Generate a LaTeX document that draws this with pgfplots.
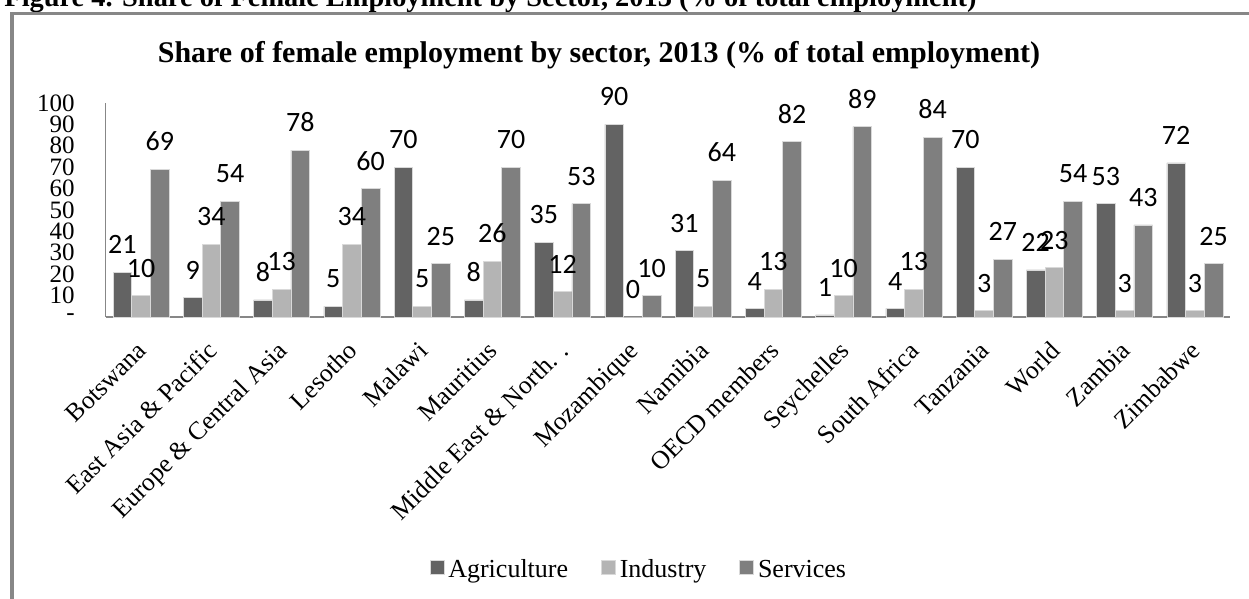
\documentclass[border=0pt]{standalone}
\usepackage{pgfplots}
\pgfplotsset{compat=1.18}
\usepackage{pgfplotstable}
\usepackage{fontspec}
\setmainfont{Liberation Serif}
\newfontfamily\carlito{Carlito}
\definecolor{agri}{HTML}{636363}
\definecolor{indu}{HTML}{B4B4B4}
\definecolor{serv}{HTML}{7F7F7F}
\definecolor{framec}{HTML}{878787}
\pgfplotstableread{
x agri indu serv
0 21 10 69
1 9 34 54
2 8 13 78
3 5 34 60
4 70 5 25
5 8 26 70
6 35 12 53
7 90 0 10
8 31 5 64
9 4 13 82
10 1 10 89
11 4 13 84
12 70 3 27
13 22 23 54
14 53 3 43
15 72 3 25
}\datatable
\begin{document}
\begin{tikzpicture}
\path[use as bounding box] (0,0) rectangle (624.5pt,-299.5pt);
\clip (0,0) rectangle (624.5pt,-299.5pt);
\node[anchor=base west, inner sep=0pt, font=\fontsize{14.2}{16}\selectfont\bfseries] at (2pt,-3.5pt) {Figure 4. Share of Female Employment by Sector, 2013 (\% of total employment)};
\draw[framec, line width=1.75pt] (6pt,-320pt) -- (6pt,-6.75pt) -- (640pt,-6.75pt);
\node[anchor=base, inner sep=0pt, font=\fontsize{15}{17}\selectfont\bfseries] at (299.5pt,-31.5pt) {Share of female employment by sector, 2013 (\% of total employment)};
\begin{axis}[
  at={(53pt,-158.5pt)}, anchor=south west,
  scale only axis, width=562pt, height=107pt,
  xmin=-0.5, xmax=15.5, ymin=0, ymax=100,
  ybar=0pt, bar width=9.35pt,
  axis x line*=bottom, axis y line*=left,
  x axis line style={framec, line width=1pt, -},
  y axis line style={framec, line width=0.5pt, -},
  major tick length=0pt,
  xtick=data,
  xticklabels={Botswana,East Asia \& Pacific,Europe \& Central Asia,Lesotho,Malawi,Mauritius,Middle East \& North. .,Mozambique,Namibia,OECD members,Seychelles,South Africa,Tanzania,World,Zambia,Zimbabwe},
  xticklabel style={rotate=45, anchor=north east, inner sep=0pt, xshift=-10pt, yshift=-6pt, font=\fontsize{12.8}{14}\selectfont},
  ytick={0,10,...,100},
  yticklabels={-,10,20,30,40,50,60,70,80,90,100},
  yticklabel style={anchor=east, inner sep=0pt, xshift=-15.5pt, font=\fontsize{12.5}{12.5}\selectfont},
  nodes near coords={\pgfmathprintnumber[assume math mode=true]{\pgfplotspointmeta}},
  every node near coord/.append style={anchor=south, inner sep=0pt, yshift=9pt, font=\carlito\fontsize{14}{16}\selectfont, text=black},
  legend style={at={(0.475,-1.182)}, anchor=center, draw=none, legend columns=3, font=\fontsize{13}{15}\selectfont,
    /tikz/every even column/.append style={column sep=14.5pt}},
  legend image code/.code={\fill[#1] (0pt,-2pt) rectangle (7pt,5pt);},
  clip=false,
]
\addplot[fill=agri, draw=white!85!black, line width=0.3pt] table[x=x,y=agri] {\datatable};
\addplot[fill=indu, draw=white!85!black, line width=0.3pt] table[x=x,y=indu] {\datatable};
\addplot[fill=serv, draw=white!85!black, line width=0.3pt] table[x=x,y=serv] {\datatable};
\legend{Agriculture,Industry,Services}
\end{axis}
\end{tikzpicture}
\end{document}
